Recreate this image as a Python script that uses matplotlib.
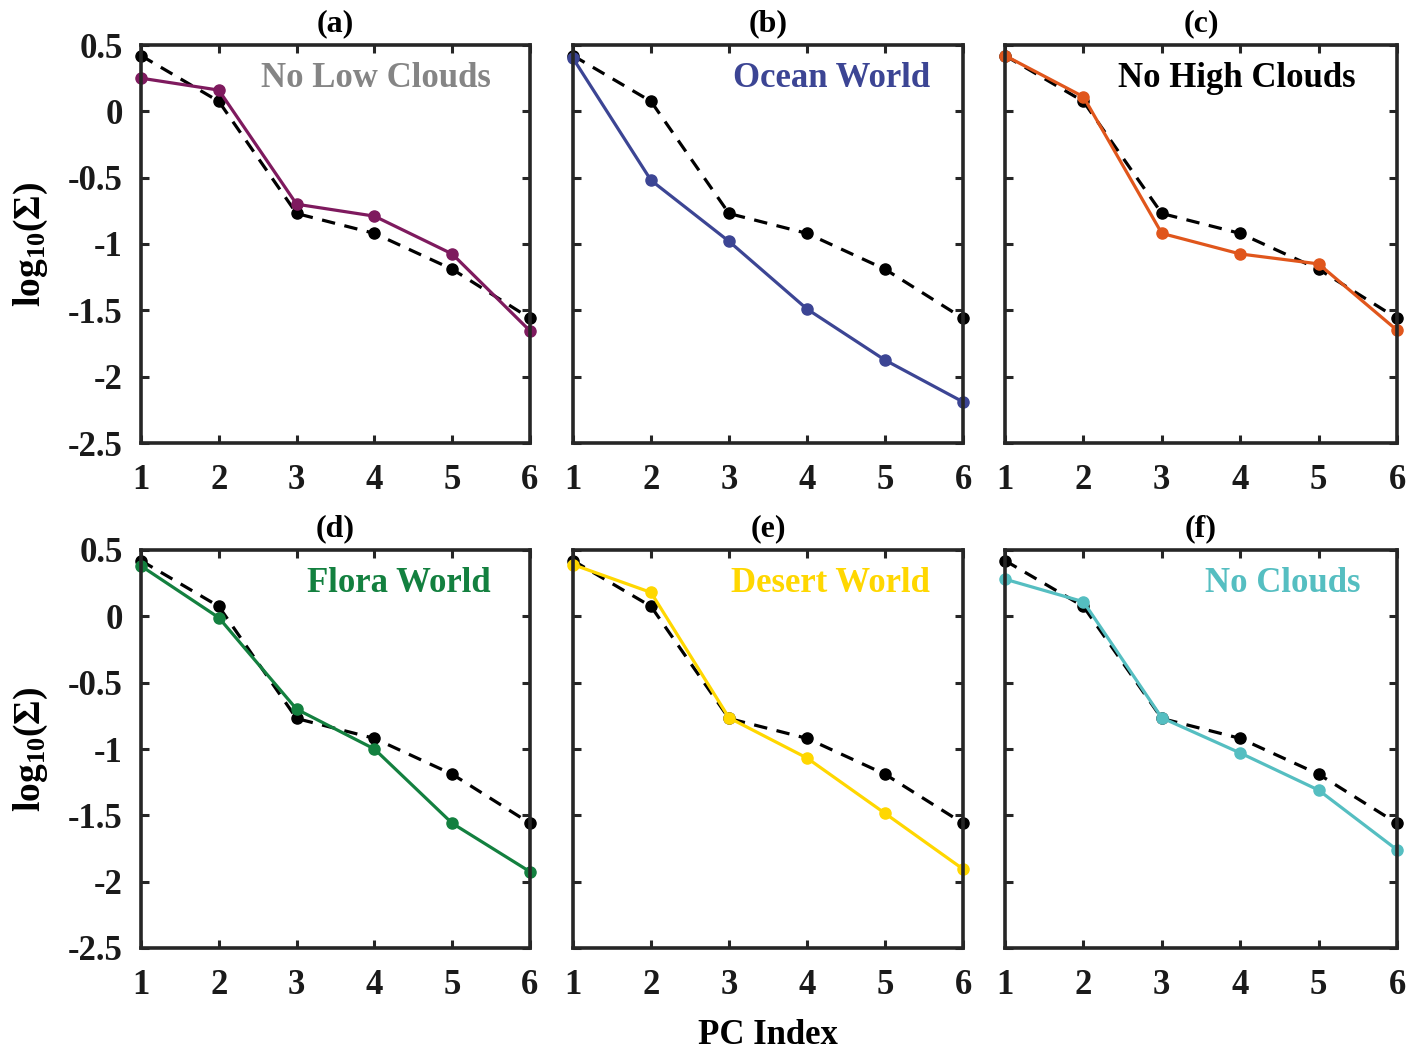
import matplotlib
matplotlib.use("Agg")
import matplotlib.pyplot as plt
import numpy as np

plt.rcParams['font.family'] = ['Liberation Serif', 'DejaVu Serif']
plt.rcParams['font.weight'] = 'bold'
plt.rcParams['mathtext.fontset'] = 'custom'
plt.rcParams['mathtext.rm'] = 'Liberation Serif'
plt.rcParams['mathtext.bf'] = 'Liberation Serif:bold'
plt.rcParams['mathtext.default'] = 'bf'

# PC index and log10 of singular values
pc_index = [1, 2, 3, 4, 5, 6]
reference = [0.42, 0.075, -0.77, -0.92, -1.19, -1.56]

no_low_clouds = [0.25, 0.16, -0.70, -0.79, -1.075, -1.655]
ocean_world = [0.40, -0.52, -0.98, -1.49, -1.875, -2.19]
no_high_clouds = [0.42, 0.11, -0.92, -1.075, -1.15, -1.65]
flora_world = [0.38, -0.01, -0.70, -1.00, -1.56, -1.925]
desert_world = [0.39, 0.18, -0.765, -1.068, -1.485, -1.905]
no_clouds = [0.28, 0.11, -0.765, -1.03, -1.31, -1.76]

panel_tags = ['(a)', '(b)', '(c)', '(d)', '(e)', '(f)']
scenario_names = ['No Low Clouds', 'Ocean World', 'No High Clouds',
                  'Flora World', 'Desert World', 'No Clouds']
scenario_values = [no_low_clouds, ocean_world, no_high_clouds,
                   flora_world, desert_world, no_clouds]
line_colors = ['#7E1A5E', '#3C4594', '#E0561C', '#13803F', '#FFD700', '#55BEC1']
name_colors = ['#858585', '#3C4594', '#000000', '#13803F', '#FFD700', '#55BEC1']

yticks = [0.5, 0, -0.5, -1, -1.5, -2, -2.5]
ytick_labels = ['0.5', '0', '-0.5', '-1', '-1.5', '-2', '-2.5']

W, H = 1421, 1049
fig = plt.figure(figsize=(W / 100, H / 100), dpi=100)

col_left = [141, 573, 1005]
col_width = [389, 390, 392]
row_top = [45, 550]
row_height = 398
name_x = [0.90, 0.915, 0.895, 0.90, 0.915, 0.908]

spine_color = '#262626'
for i in range(6):
    r, c = divmod(i, 3)
    left = col_left[c] / W
    bottom = 1 - (row_top[r] + row_height) / H
    ax = fig.add_axes([left, bottom, col_width[c] / W, row_height / H])

    ax.plot(pc_index, reference, color='black', linestyle=(0, (4.2, 3.0)),
            linewidth=2.3, marker='o', markersize=8, zorder=3, clip_on=False)
    ax.plot(pc_index, scenario_values[i], color=line_colors[i], linestyle='-',
            linewidth=2.3, marker='o', markersize=8, zorder=4, clip_on=False)

    ax.set_xlim(1, 6)
    ax.set_ylim(-2.5, 0.5)
    ax.set_xticks(pc_index)
    ax.set_xticklabels([str(v) for v in pc_index])
    ax.set_yticks(yticks)
    if c == 0:
        ax.set_yticklabels(ytick_labels)
        ax.set_ylabel(r'log$_{\mathbf{10}}$$\mathrm{(\Sigma)}$', fontsize=27,
                      fontweight='bold')
        ax.yaxis.set_label_coords(-0.235, 0.5)
    else:
        ax.set_yticklabels([])

    ax.tick_params(axis='both', direction='in', length=6, width=2.2,
                   color=spine_color, top=True, right=True, labelsize=25,
                   labelcolor='#1a1a1a')
    ax.tick_params(axis='x', pad=15)
    ax.tick_params(axis='y', pad=13)
    for s in ax.spines.values():
        s.set_linewidth(2.6)
        s.set_color(spine_color)
        s.set_zorder(5)

    ax.set_title(panel_tags[i], fontsize=23, fontweight='bold', pad=10)
    ax.text(name_x[i], 0.915, scenario_names[i], transform=ax.transAxes,
            ha='right', va='center', fontsize=25, fontweight='bold',
            color=name_colors[i], zorder=6)

    if i == 4:
        ax.set_xlabel('PC Index', fontsize=25, fontweight='bold', labelpad=12)

fig.savefig('out.png', dpi=100)
